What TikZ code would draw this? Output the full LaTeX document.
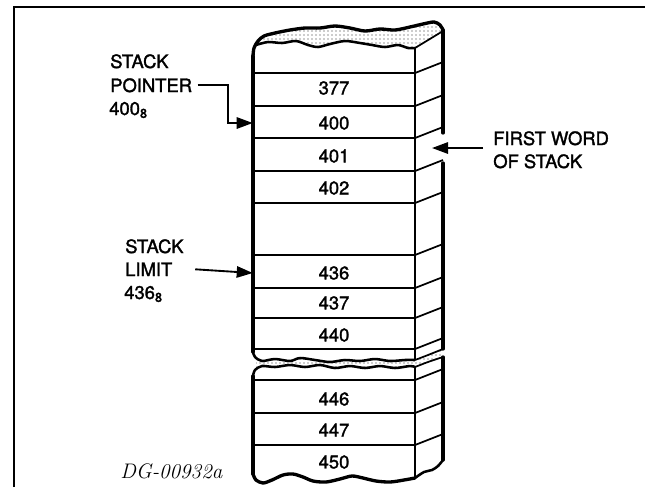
\documentclass[tikz,border=0pt]{standalone}
\usepackage{fontspec}
\newfontfamily\hv[FakeBold=1.6]{TeX Gyre Heros}
\usetikzlibrary{arrows.meta,patterns,calc}
\tikzset{
  edge/.style={line width=2.5pt, line cap=round, line join=round},
  fedge/.style={line width=1.7pt},
  rowline/.style={line width=1.3pt, line join=round},
  tear/.style={line width=1.9pt, line join=round},
  cell/.style={minimum width=121.5pt, minimum height=22pt, inner sep=0pt, font=\hv\fontsize{13.8}{16}\selectfont},
  lbl/.style={inner sep=0pt, anchor=base west, font=\hv\fontsize{13.8}{16}\selectfont},
  arr/.style={line width=1.4pt, -{Triangle[length=12pt,width=8.5pt]}},
  stip/.style={pattern=dots, pattern color=black!85}
}
\begin{document}
\begin{tikzpicture}[x=0.75pt,y=-0.75pt]
\useasboundingbox (0,0) rectangle (645,487);
% frame
\draw[line width=1.4pt] (14,487) -- (14,7) -- (645,7);

% ---- upper block: torn top
\fill[stip] plot[smooth] coordinates {(254,48) (258,41) (264,36) (275,33) (290,30) (305,28) (320,28) (335,26) (350,28) (365,31) (380,29) (395,30) (410,27) (423,24) (434,22) (440,25) (443,30)}
  -- plot[smooth] coordinates {(443,31) (434,36) (425,42) (415,48) (408,48) (398,45) (385,47) (372,45) (360,43) (345,41) (330,44) (318,47) (308,45) (296,41) (282,43) (268,42) (256,45)} -- cycle;
\draw[edge] plot[smooth] coordinates {(253,56) (254,48) (258,41) (264,36) (275,33) (290,30) (305,28) (320,28) (335,26) (350,28) (365,31) (380,29) (395,30) (410,27) (423,24) (434,22) (440,25) (443,30)};
\draw[tear] plot[smooth] coordinates {(256,45) (268,42) (282,43) (296,41) (308,45) (318,47) (330,44) (345,41) (360,43) (372,45) (385,47) (398,45) (408,48) (415,48)};
\draw[rowline] (415,48) -- (443,31);

% upper block edges
\draw[edge] (253,56) -- (253,352);
\draw[fedge] (415,48) -- (415,360);
\draw[edge] (443,30) -- (443,133);
\draw[edge] (443,163) -- (443,349);
\foreach \y in {73,106,138,171,203,255,288,318,349}
  \draw[rowline] (253,\y) -- (415,\y) -- ++(28,-11);

% ---- break between blocks
\fill[stip] plot[smooth] coordinates {(256,358) (262,361) (275,359) (290,361) (300,358) (315,360) (330,362) (345,360) (360,361) (375,359) (390,361) (405,360) (415,360) (428,355) (443,349)}
  -- plot[smooth] coordinates {(443,357) (428,362) (415,367) (410,366) (395,368) (380,366) (365,368) (350,366) (335,368) (320,365) (305,367) (290,365) (275,367) (262,366) (256,369)} -- cycle;
\draw[tear] plot[smooth] coordinates {(253,352) (255,357) (262,361) (275,359) (290,361) (300,358) (315,360) (330,362) (345,360) (360,361) (375,359) (390,361) (405,360) (415,360)};
\draw[rowline] plot[smooth] coordinates {(415,360) (428,355) (443,349)};
\draw[tear] plot[smooth] coordinates {(253,376) (255,370) (262,366) (275,367) (290,365) (305,367) (320,365) (335,368) (350,366) (365,368) (380,366) (395,368) (410,366) (415,367)};
\draw[rowline] plot[smooth] coordinates {(415,367) (428,362) (443,357)};

% ---- lower block
\draw[edge] (253,376) -- (253,474);
\draw[fedge] (415,367) -- (415,478);
\draw[edge] (443,357) -- (443,460);
\foreach \y in {380,413,445}
  \draw[rowline] (253,\y) -- (415,\y) -- ++(28,-11);
\draw[edge] plot[smooth] coordinates {(253,474) (256,480) (263,483) (272,480) (283,475) (293,474) (303,477) (313,481) (326,482) (340,479) (352,476) (363,478) (376,481) (390,482) (404,480) (415,478)};
\draw[tear] plot[smooth] coordinates {(415,478) (424,472) (432,470) (438,466) (443,460)};

% ---- cells
\node[cell] (c377) at (334,88) {377};
\node[cell] (c400) at (334,123) {400};
\node[cell] (c401) at (334,156) {401};
\node[cell] (c402) at (334,188) {402};
\node[cell] (c436) at (334,273) {436};
\node[cell] (c437) at (334,303) {437};
\node[cell] (c440) at (334,335) {440};
\node[cell] (c446) at (334,399) {446};
\node[cell] (c447) at (334,430) {447};
\node[cell] (c450) at (334,462) {450};

% ---- labels
\node[lbl] (sp1) at (110,68) {STACK};
\node[lbl] (sp2) at (110,92) {POINTER};
\node[lbl] (sp3) at (109,115) {400\textsubscript{8}};
\node[lbl] (sl1) at (125,253) {STACK};
\node[lbl] (sl2) at (125,276) {LIMIT};
\node[lbl] (sl3) at (124,299) {436\textsubscript{8}};
\node[lbl] (fw1) at (493,145) {FIRST WORD};
\node[lbl] (fw2) at (493,168) {OF STACK};
\node[inner sep=0pt, anchor=base west, font=\itshape\fontsize{15.8}{18}\selectfont] (dg) at (120,478) {DG-00932a};

% ---- arrows
\coordinate (gap) at (432,148);
\draw[arr] ([xshift=4pt]sp2.east) -- ++(30,0) |- (c400.west);
\draw[arr] ([xshift=17pt]sl2.east) -- (c436.west);
\draw[arr] ($(fw1.west |- gap)+(-10,0)$) -- (gap);
\end{tikzpicture}
\end{document}
